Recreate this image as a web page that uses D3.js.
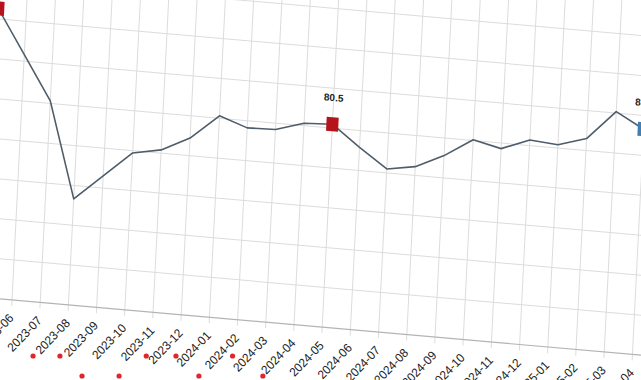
<!DOCTYPE html>
<html><head><meta charset="utf-8">
<script src="https://cdn.jsdelivr.net/npm/d3@7/dist/d3.min.js"></script>
<style>html,body{margin:0;padding:0;background:#fff;overflow:hidden}svg{display:block}</style>
</head><body>
<svg id="chart" width="641" height="380"></svg>
<script>
// ---- data ----
const months = ["2023-05","2023-06","2023-07","2023-08","2023-09","2023-10","2023-11","2023-12",
  "2024-01","2024-02","2024-03","2024-04","2024-05","2024-06","2024-07","2024-08","2024-09",
  "2024-10","2024-11","2024-12","2025-01","2025-02","2025-03","2025-04"];
const values = [91.3, 85.8, 80.3, 68.3, 71.5, 74.7, 75.4, 77.2, 80.3, 79.1, 79.2, 80.3,
  80.5, 77.9, 75.5, 76.1, 77.8, 80.1, 79.3, 80.7, 80.4, 81.5, 85.2, 83.3];
const yTicks = [55, 60, 65, 70, 75, 80, 85, 90, 95, 100];
const redMonths = ["2023-05", "2024-05"];
const blueMonths = ["2025-04"];
const labelMonths = ["2023-05", "2024-05", "2025-04"];
const eventRowA = [0.85, 1.8, 4.85, 5.9, 7.9];
const eventRowB = [2.58, 3.89, 6.71, 8.97];

// ---- layout ----
const svg = d3.select("#chart");
const x = d3.scalePoint().domain(months).range([-1.3, 647.3]).padding(0);
const y = d3.scaleLinear().domain([55, 100]).range([297.5, -60.7]);
const uMin = -60, uMax = 720, vTop = -120;

const g = svg.append("g").attr("transform", "matrix(1,0.088,-0.05,1,0,0)");

// horizontal grid
g.append("g").selectAll("line").data(yTicks.filter(t => t > 55)).join("line")
  .attr("x1", uMin).attr("x2", uMax)
  .attr("y1", d => y(d)).attr("y2", d => y(d))
  .attr("stroke", "#dcdcdc").attr("stroke-width", 1);

// vertical grid
g.append("g").selectAll("line").data(months).join("line")
  .attr("x1", d => x(d)).attr("x2", d => x(d))
  .attr("y1", vTop).attr("y2", y(55) + 6)
  .attr("stroke", "#dcdcdc").attr("stroke-width", 1);

// x axis baseline
g.append("line").attr("x1", uMin).attr("x2", uMax)
  .attr("y1", y(55)).attr("y2", y(55))
  .attr("stroke", "#b4b4b4").attr("stroke-width", 1.2);

// x axis labels
g.append("g").selectAll("text").data(months).join("text")
  .attr("transform", d => `translate(${x(d)},${y(55) + 16}) rotate(-50)`)
  .attr("text-anchor", "end").attr("dy", "0.35em")
  .attr("font-family", "Liberation Sans, Arial, sans-serif")
  .attr("font-size", 12).attr("fill", "#222")
  .text(d => d);

// line
const line = d3.line().x((d, i) => x(months[i])).y(d => y(d));
g.append("path").datum(values).attr("d", line)
  .attr("fill", "none").attr("stroke", "#4f5d6b").attr("stroke-width", 1.6)
  .attr("stroke-linejoin", "round");

// highlighted markers
const pts = months.map((m, i) => ({m, v: values[i]}));
g.append("g").selectAll("rect").data(pts.filter(p => redMonths.includes(p.m) || blueMonths.includes(p.m))).join("rect")
  .attr("x", p => x(p.m) - 6).attr("y", p => y(p.v) - 7)
  .attr("width", 12).attr("height", 14)
  .attr("fill", p => redMonths.includes(p.m) ? "#b5141c" : "#3f7fb3");

g.append("g").selectAll("text").data(pts.filter(p => labelMonths.includes(p.m))).join("text")
  .attr("x", p => x(p.m)).attr("y", p => y(p.v) - 23)
  .attr("text-anchor", "middle")
  .attr("font-family", "Liberation Sans, Arial, sans-serif")
  .attr("font-size", 10).attr("font-weight", "bold").attr("fill", "#222")
  .text(p => p.v.toFixed(1));

// event dots (screen space)
const ex = d3.scaleLinear().domain([0, 1]).range([9, 37.3]);
const rowY = d3.scalePoint().domain(["a", "b"]).range([356, 376]);
const ev = eventRowA.map(k => ({k, r: "a"})).concat(eventRowB.map(k => ({k, r: "b"})));
svg.append("g").selectAll("circle").data(ev).join("circle")
  .attr("cx", d => ex(d.k)).attr("cy", d => rowY(d.r)).attr("r", 2.6)
  .attr("fill", "#e0262b");
</script>
</body></html>
